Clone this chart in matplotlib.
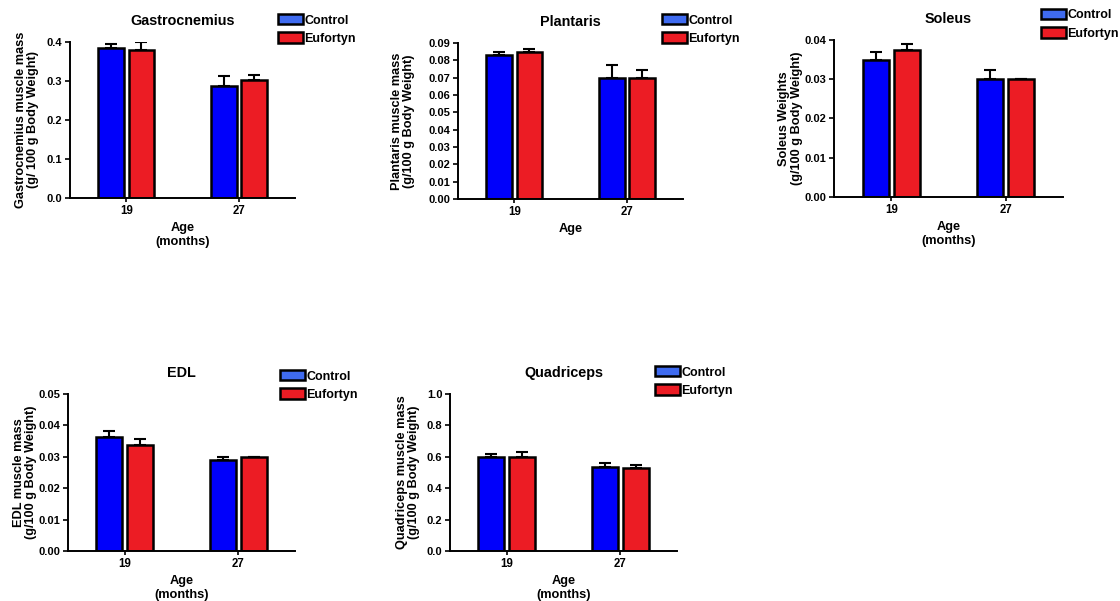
import matplotlib.pyplot as plt
from matplotlib.patches import Patch

plt.rcParams['font.family'] = ['Liberation Sans', 'DejaVu Sans']
plt.rcParams['font.weight'] = 'bold'

# ---- data ----
ages = ['19', '27']
groups = ['Control', 'Eufortyn']

gastro_control = [0.385, 0.288]
gastro_control_err = [0.010, 0.024]
gastro_eufortyn = [0.380, 0.302]
gastro_eufortyn_err = [0.020, 0.013]

plantaris_control = [0.083, 0.070]
plantaris_control_err = [0.002, 0.0074]
plantaris_eufortyn = [0.085, 0.070]
plantaris_eufortyn_err = [0.0015, 0.0043]

soleus_control = [0.035, 0.030]
soleus_control_err = [0.0019, 0.0023]
soleus_eufortyn = [0.0374, 0.030]
soleus_eufortyn_err = [0.0017, 0.0]

edl_control = [0.0362, 0.029]
edl_control_err = [0.0019, 0.0009]
edl_eufortyn = [0.0339, 0.030]
edl_eufortyn_err = [0.0017, 0.0]

quad_control = [0.601, 0.533]
quad_control_err = [0.015, 0.025]
quad_eufortyn = [0.601, 0.527]
quad_eufortyn_err = [0.032, 0.023]

# ---- figure ----
W, H = 1120, 601
fig = plt.figure(figsize=(W / 100, H / 100), dpi=100)

bar_colors = ['#0000fb', '#ec1c24']
legend_colors = ['#3f6bf0', '#ec1c24']


def px_axes(left, right, top, bottom):
    """axes placed from pixel edges (y measured from the top)"""
    return fig.add_axes([left / W, 1 - bottom / H, (right - left) / W, (bottom - top) / H])


def draw_panel(box, title, control, control_err, eufortyn, eufortyn_err,
               ymax, ystep, yfmt, ylabel, xlabel, ylab_x, legend_xy):
    ax = px_axes(*box)
    x = range(len(ages))
    width = 0.23
    offset = 0.135
    for vals, errs, color, sign in [(control, control_err, bar_colors[0], -1),
                                    (eufortyn, eufortyn_err, bar_colors[1], 1)]:
        pos = [i + sign * offset for i in x]
        ax.bar(pos, vals, width, color=color, edgecolor='black', linewidth=1.8, zorder=2)
        # upper error bars only
        ax.errorbar(pos, vals, yerr=[[0] * len(errs), errs], fmt='none', ecolor='black',
                    elinewidth=1.5, capsize=4, capthick=1.5, zorder=1)

    ax.set_xlim(-0.5, 1.5)
    ax.set_ylim(0, ymax)
    n = int(round(ymax / ystep))
    ticks = [i * ystep for i in range(n + 1)]
    ax.set_yticks(ticks)
    ax.set_yticklabels([yfmt.format(t) for t in ticks])
    ax.set_xticks(list(x))
    ax.set_xticklabels(ages)

    for side in ['top', 'right']:
        ax.spines[side].set_visible(False)
    for side in ['left', 'bottom']:
        ax.spines[side].set_linewidth(1.4)
    ax.tick_params(axis='both', labelsize=8, width=1.2, length=3.5, pad=2)
    ax.tick_params(axis='x', length=3, labelsize=8.3)

    ax.set_title(title, fontsize=10.4, fontweight='bold', pad=12)
    ax.set_ylabel(ylabel, fontsize=9.2, fontweight='bold', va='center', linespacing=1.05)
    ax.yaxis.set_label_coords(ylab_x, 0.5)
    ax.set_xlabel(xlabel, fontsize=9.2, fontweight='bold', va='top')
    ax.xaxis.set_label_coords(0.5, -0.155)

    handles = [Patch(facecolor=c, edgecolor='black', linewidth=1.8, label=g)
               for c, g in zip(legend_colors, groups)]
    ax.legend(handles=handles, loc='upper left', bbox_to_anchor=(legend_xy[0] / W, 1 - legend_xy[1] / H),
              bbox_transform=fig.transFigure, frameon=False, fontsize=9,
              handlelength=2.0, handleheight=0.9, handletextpad=0.1, labelspacing=0.45,
              borderpad=0, borderaxespad=0)
    return ax


draw_panel((70, 295, 42, 198), 'Gastrocnemius', gastro_control, gastro_control_err,
           gastro_eufortyn, gastro_eufortyn_err, 0.4, 0.1, '{:.1f}',
           'Gastrocnemius muscle mass\n(g/ 100 g Body Weight)', 'Age\n(months)', -0.19, (278, 14))

draw_panel((458, 683, 43, 199), 'Plantaris', plantaris_control, plantaris_control_err,
           plantaris_eufortyn, plantaris_eufortyn_err, 0.09, 0.01, '{:.2f}',
           'Plantaris muscle mass\n(g/100 g Body Weight)', 'Age', -0.245, (662, 14))

draw_panel((834, 1063, 40, 197), 'Soleus', soleus_control, soleus_control_err,
           soleus_eufortyn, soleus_eufortyn_err, 0.04, 0.01, '{:.2f}',
           'Soleus Weights\n(g/100 g Body Weight)', 'Age\n(months)', -0.19, (1041, 9))

draw_panel((68, 295, 394, 551), 'EDL', edl_control, edl_control_err,
           edl_eufortyn, edl_eufortyn_err, 0.05, 0.01, '{:.2f}',
           'EDL muscle mass\n(g/100 g Body Weight)', 'Age\n(months)', -0.19, (280, 370))

draw_panel((450, 677, 394, 551), 'Quadriceps', quad_control, quad_control_err,
           quad_eufortyn, quad_eufortyn_err, 1.0, 0.2, '{:.1f}',
           'Quadriceps muscle mass\n(g/100 g Body Weight)', 'Age\n(months)', -0.185, (655, 366))

fig.savefig('out.png', dpi=100)
